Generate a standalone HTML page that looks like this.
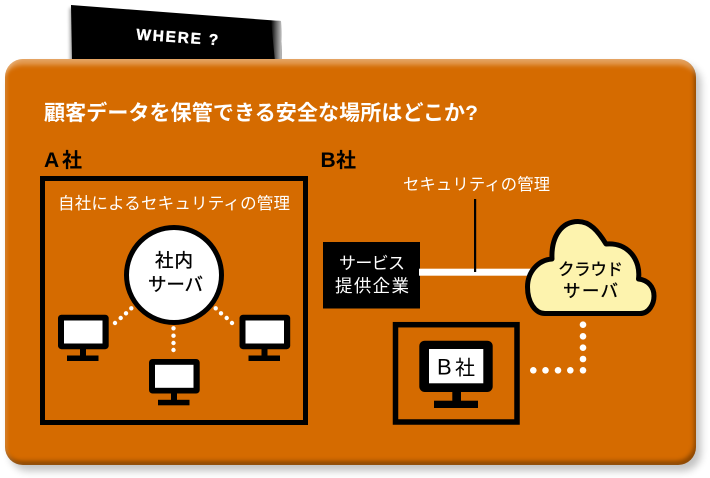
<!DOCTYPE html>
<html lang="ja"><head><meta charset="utf-8"><style>
html,body{margin:0;padding:0;background:#fff}
#c{position:relative;width:710px;height:478px;overflow:hidden;background:#fff}
#tab{position:absolute;left:0;top:0}
#p{position:absolute;left:5px;top:59px;width:691px;height:406px;border-radius:18px;background:#d56b00;
box-shadow:5px 6px 8px rgba(0,0,0,.24),inset 0 11px 5px -5px rgba(255,255,255,.34),inset -2px -4px 4px rgba(0,0,0,.34),inset 2px 0 3px rgba(255,255,255,.2)}
#s{position:absolute;left:0;top:0}
text{font-family:"Liberation Sans","Noto Sans CJK JP",sans-serif}
</style></head><body><div id="c">
<svg id="tab" width="710" height="70" viewBox="0 0 710 70">
<defs><linearGradient id="g" x1="0" x2="1" y1="0" y2="0"><stop offset="0" stop-color="#fff" stop-opacity="0"/><stop offset="1" stop-color="#ddd" stop-opacity=".9"/></linearGradient>
<filter id="b" x="-100%" y="-10%" width="300%" height="120%"><feGaussianBlur stdDeviation="1.5"/></filter></defs>
<polygon points="69.5,8 74,8 74,62 70,62" fill="#000" opacity=".35" filter="url(#b)"/>
<polygon points="71,5 281,21 282,62 72,62" fill="#000"/>
<polygon points="271,20 281,21 282,62 275,62" fill="url(#g)"/>
<text transform="translate(136,39.5) rotate(4)" font-size="15.5" font-weight="700" fill="#fff" stroke="#fff" stroke-width=".4" textLength="82" lengthAdjust="spacing">WHERE ?</text>
</svg>
<div id="p"></div>
<svg id="s" width="710" height="478" viewBox="0 0 710 478">
<text x="44" y="120" font-size="21" font-weight="700" fill="#fff" textLength="434" lengthAdjust="spacing">顧客データを保管できる安全な場所はどこか?</text>
<text y="167" font-weight="700" fill="#000"><tspan x="44" font-size="21">A</tspan><tspan x="62" font-size="20">社</tspan></text>
<text y="167" font-weight="700" fill="#000"><tspan x="320.5" font-size="21">B</tspan><tspan x="336" font-size="20">社</tspan></text>
<rect x="42.5" y="178.5" width="263" height="244" fill="none" stroke="#000" stroke-width="5"/>
<text x="58" y="209" font-size="16.5" fill="#fff" textLength="232" lengthAdjust="spacing">自社によるセキュリティの管理</text>
<text x="403" y="190" font-size="16.3" fill="#fff" textLength="147" lengthAdjust="spacing">セキュリティの管理</text>

<circle cx="174" cy="275" r="47.5" fill="#fff" stroke="#000" stroke-width="5"/>
<text x="155" y="267" font-size="18.5" fill="#000" stroke="#000" stroke-width=".35" textLength="38" lengthAdjust="spacing">社内</text>
<text x="148" y="291" font-size="18.5" fill="#000" stroke="#000" stroke-width=".35" textLength="55" lengthAdjust="spacing">サーバ</text>

<g fill="#fff">
<circle cx="115" cy="323" r="2.2"/><circle cx="120.7" cy="318" r="2.2"/><circle cx="126" cy="313.3" r="2.2"/><circle cx="131.3" cy="308.3" r="2.2"/>
<circle cx="215.7" cy="308.3" r="2.2"/><circle cx="221" cy="313.3" r="2.2"/><circle cx="226.7" cy="318" r="2.2"/><circle cx="232" cy="323" r="2.2"/>
<circle cx="173.5" cy="328.3" r="2.2"/><circle cx="173.5" cy="335.7" r="2.2"/><circle cx="173.5" cy="343" r="2.2"/><circle cx="173.5" cy="350" r="2.2"/>
</g>
<g>
<rect x="58" y="314.7" width="50.7" height="34.5" rx="3.5" fill="#000"/><rect x="64" y="320.5" width="38.5" height="23" fill="#fff"/>
<rect x="80" y="349" width="6" height="7" fill="#000"/><rect x="67" y="355.5" width="31.5" height="5.5" fill="#000"/>
</g>
<g transform="translate(181.5,0)">
<rect x="58" y="314.7" width="50.7" height="34.5" rx="3.5" fill="#000"/><rect x="64" y="320.5" width="38.5" height="23" fill="#fff"/>
<rect x="80" y="349" width="6" height="7" fill="#000"/><rect x="67" y="355.5" width="31.5" height="5.5" fill="#000"/>
</g>
<g transform="translate(91,44.3)">
<rect x="58" y="314.7" width="50.7" height="34.5" rx="3.5" fill="#000"/><rect x="64" y="320.5" width="38.5" height="23" fill="#fff"/>
<rect x="80" y="349" width="6" height="7" fill="#000"/><rect x="67" y="355.5" width="31.5" height="5.5" fill="#000"/>
</g>

<rect x="323" y="242" width="97" height="66.5" fill="#000"/>
<text x="339" y="269" font-size="17" fill="#fff" textLength="66" lengthAdjust="spacing">サービス</text>
<text x="335" y="292" font-size="17.5" fill="#fff" textLength="74" lengthAdjust="spacing">提供企業</text>
<rect x="419" y="268.7" width="112" height="7" fill="#fff"/>
<rect x="474" y="199" width="2.2" height="73" fill="#000"/>

<path d="M545 313.5H640C649 313.5 654 304 654 296C654 287 648 280 638.5 279C641 260 628 242 606 244C598 231 590 221.5 578 221.5C562 221.5 551 236 552 259C538 260 527.5 272 527.5 287C527.5 302 535 313.5 545 313.5Z" fill="#fdf3ae" stroke="#000" stroke-width="5" stroke-linejoin="round"/>
<text x="558" y="275" font-size="16.5" fill="#000" stroke="#000" stroke-width=".35" textLength="65" lengthAdjust="spacing">クラウド</text>
<text x="563" y="297" font-size="17.5" fill="#000" stroke="#000" stroke-width=".35" textLength="55" lengthAdjust="spacing">サーバ</text>

<g fill="#fff">
<circle cx="583" cy="324.7" r="3.3"/><circle cx="583" cy="336.3" r="3.3"/><circle cx="583" cy="347.7" r="3.3"/><circle cx="583" cy="359" r="3.3"/><circle cx="583" cy="370.3" r="3.3"/>
<circle cx="533.3" cy="370.3" r="3.3"/><circle cx="545.5" cy="370.3" r="3.3"/><circle cx="558" cy="370.3" r="3.3"/><circle cx="570.3" cy="370.3" r="3.3"/>
</g>

<rect x="395.5" y="324.7" width="121.5" height="97.3" fill="none" stroke="#000" stroke-width="5.5"/>
<rect x="419.3" y="340.7" width="73.4" height="51.3" rx="5.5" fill="#000"/>
<rect x="429" y="349" width="54.3" height="34.3" fill="#fff"/>
<rect x="452.3" y="391" width="8.7" height="10" fill="#000"/>
<rect x="434" y="400.7" width="44" height="7.3" fill="#000"/>
<text y="374.5" fill="#000"><tspan x="437" font-size="22">B</tspan><tspan x="455" font-size="20">社</tspan></text>
</svg>
</div></body></html>
